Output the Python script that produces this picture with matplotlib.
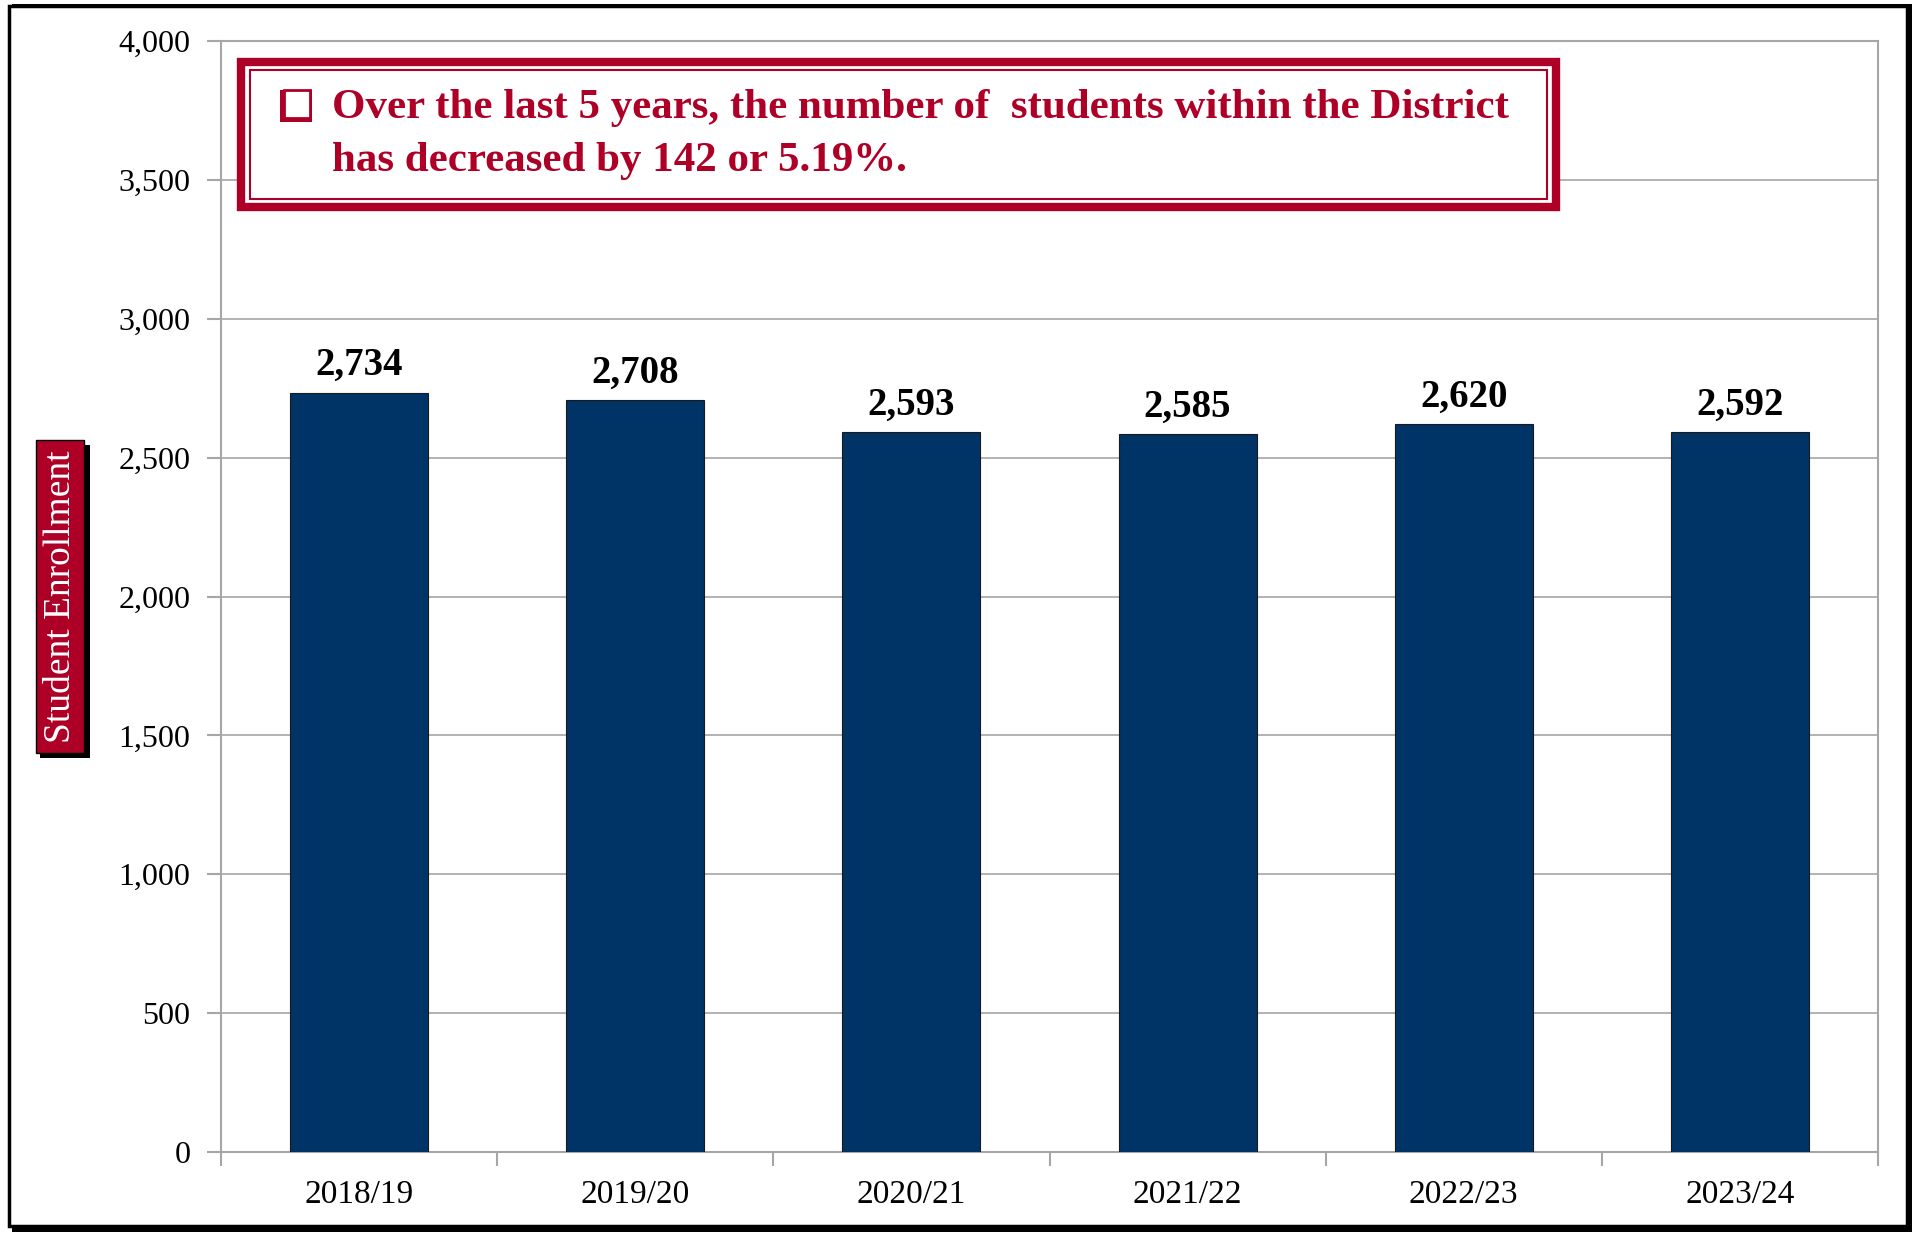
import matplotlib
matplotlib.use("Agg")
import matplotlib.pyplot as plt
from matplotlib.patches import Rectangle
from matplotlib.ticker import FuncFormatter, MultipleLocator

years = ["2018/19", "2019/20", "2020/21", "2021/22", "2022/23", "2023/24"]
enrollment = [2734, 2708, 2593, 2585, 2620, 2592]
y_label = "Student Enrollment"
note_line1 = "Over the last 5 years, the number of  students within the District"
note_line2 = "has decreased by 142 or 5.19%."

RED = "#AE0027"
NAVY = "#003366"
GRID = "#A6A6A6"
FONT = ["Liberation Serif", "DejaVu Serif"]

plt.rcParams["font.family"] = FONT

fig = plt.figure(figsize=(19.19, 12.34), dpi=100)
W, H = 1919, 1234

# outer frame with shadow
fig.patches.append(Rectangle((12 / W, 1 - 1232 / H), 1900 / W, 1228 / H, transform=fig.transFigure,
                             facecolor="black", edgecolor="none", zorder=0))
fig.patches.append(Rectangle((9 / W, 1 - 1226 / H), 1898 / W, 1220 / H, transform=fig.transFigure,
                             facecolor="white", edgecolor="black", linewidth=2.5, zorder=0.5))

ax = fig.add_axes([221 / W, 1 - 1152 / H, (1878 - 221) / W, (1152 - 41) / H])
ax.set_zorder(1)
ax.patch.set_alpha(0)
x = list(range(len(years)))
ax.bar(x, enrollment, width=0.5, color=NAVY, edgecolor="#1a1a1a", linewidth=0.8, zorder=3)
ax.set_xlim(-0.5, len(years) - 0.5)
ax.set_ylim(0, 4000)
ax.yaxis.set_major_locator(MultipleLocator(500))
ax.yaxis.set_major_formatter(FuncFormatter(lambda v, p: f"{int(v):,}"))
ax.grid(axis="y", color=GRID, linewidth=1.2, zorder=0)
ax.set_axisbelow(True)
for s in ax.spines.values():
    s.set_color(GRID)
    s.set_linewidth(1.5)
ax.set_xticks(x)
ax.set_xticklabels(years)
ax.set_xticks([i - 0.5 for i in range(len(years) + 1)], minor=True)
ax.tick_params(axis="x", which="major", length=0, pad=20, labelsize=24)
ax.tick_params(axis="x", which="minor", length=10, width=1.5, color=GRID)
ax.tick_params(axis="y", length=10, width=1.5, color=GRID, labelsize=23, pad=12)

for xi, v in zip(x, enrollment):
    ax.text(xi, v + 30, f"{v:,}", ha="center", va="bottom", fontsize=28, fontweight="bold", color="black")

# annotation box
fig.patches.append(Rectangle((241 / W, 1 - 207 / H), (1556 - 241) / W, (207 - 62) / H, transform=fig.transFigure,
                             facecolor="white", edgecolor=RED, linewidth=6, zorder=5))
fig.patches.append(Rectangle((250 / W, 1 - 199 / H), (1547 - 250) / W, (199 - 70) / H, transform=fig.transFigure,
                             facecolor="none", edgecolor=RED, linewidth=1.5, zorder=6))
# checkbox bullet
fig.patches.append(Rectangle((280 / W, 1 - 122 / H), 32 / W, 32 / H, transform=fig.transFigure,
                             facecolor=RED, edgecolor="none", zorder=6))
fig.patches.append(Rectangle((284 / W, 1 - 118 / H), 26 / W, 28 / H, transform=fig.transFigure,
                             facecolor="white", edgecolor=RED, linewidth=2.0, zorder=7))
fig.text(332 / W, 1 - 108 / H, note_line1, ha="left", va="center", fontsize=31, fontweight="bold",
         color=RED, zorder=8)
fig.text(332 / W, 1 - 161 / H, note_line2, ha="left", va="center", fontsize=31, fontweight="bold",
         color=RED, zorder=8)

# y label box
fig.patches.append(Rectangle((40 / W, 1 - 758 / H), 50 / W, 313 / H, transform=fig.transFigure,
                             facecolor="black", edgecolor="none", zorder=5))
fig.patches.append(Rectangle((36 / W, 1 - 753 / H), 48 / W, 313 / H, transform=fig.transFigure,
                             facecolor=RED, edgecolor="black", linewidth=1, zorder=6))
fig.text(61 / W, 1 - 597 / H, y_label, rotation=90, ha="center", va="center", fontsize=27,
         color="white", zorder=7)

fig.savefig("out.png", dpi=100)
